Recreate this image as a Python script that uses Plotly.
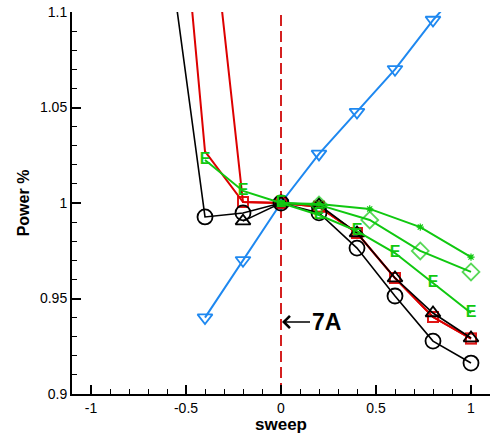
import plotly.graph_objects as go

# ---- data ----
blue_x = [-0.4, -0.2, 0.0, 0.2, 0.4, 0.6, 0.8, 1.0]
blue_y = [0.940, 0.970, 1.000, 1.0257, 1.0476, 1.070, 1.0958, 1.118]

red1_x = [-0.6, -0.4, -0.2, 0.0, 0.2, 0.4, 0.6, 0.8, 1.0]
red1_y = [1.245, 1.027, 1.0005, 1.000, 0.998, 0.9843, 0.9607, 0.9403, 0.929]
red2_x = [-0.4, -0.2, 0.0, 0.2, 0.4, 0.6, 0.8, 1.0]
red2_y = [1.182, 1.0005, 1.000, 0.998, 0.9843, 0.9607, 0.9403, 0.929]

circ_x = [-0.6, -0.4, -0.2, 0.0, 0.2, 0.4, 0.6, 0.8, 1.0]
circ_y = [1.140, 0.9927, 0.9948, 1.000, 0.9948, 0.9764, 0.9513, 0.9277, 0.9162]
tri_x = [-0.2, 0.0, 0.2, 0.4, 0.6, 0.8, 1.0]
tri_y = [0.9905, 1.000, 0.999, 0.9843, 0.9607, 0.9424, 0.9293]

e_x = [-0.4, -0.2, 0.0, 0.2, 0.4, 0.6, 0.8, 1.0]
e_y = [1.0225, 1.0063, 1.000, 0.9937, 0.9853, 0.9738, 0.9581, 0.9424]
dia_x = [0.0, 0.2, 0.467, 0.733, 1.0]
dia_y = [1.000, 0.999, 0.9911, 0.9749, 0.9639]
ast_x = [0.0, 0.2, 0.467, 0.733, 1.0]
ast_y = [1.000, 0.9995, 0.9969, 0.9874, 0.9717]

x_ticks = [-1, -0.5, 0, 0.5, 1]
x_ticklabels = ["-1", "-0.5", "0", "0.5", "1"]
y_ticks = [0.9, 0.95, 1.0, 1.05, 1.1]
y_ticklabels = ["0.9", "0.95", "1", "1.05", "1.1"]

BLUE = "#1e88f0"
RED = "#dd0000"
GREEN = "#10c810"
BLACK = "#000000"

fig = go.Figure()

fig.add_trace(go.Scatter(x=blue_x, y=blue_y, mode="lines+markers",
                         line=dict(color=BLUE, width=2),
                         marker=dict(symbol="triangle-down-open", size=13, color=BLUE,
                                     line=dict(width=1.8, color=BLUE))))
red1_sizes = [0 if xv < -0.3 else 10 for xv in red1_x]
fig.add_trace(go.Scatter(x=red1_x, y=red1_y, mode="lines+markers",
                         line=dict(color=RED, width=2),
                         marker=dict(symbol="square-open", size=red1_sizes, color=RED,
                                     line=dict(width=2, color=RED))))
red2_sizes = [0 if xv < -0.3 else 10 for xv in red2_x]
fig.add_trace(go.Scatter(x=red2_x, y=red2_y, mode="lines+markers",
                         line=dict(color=RED, width=2),
                         marker=dict(symbol="square-open", size=red2_sizes, color=RED,
                                     line=dict(width=2, color=RED))))
fig.add_trace(go.Scatter(x=circ_x, y=circ_y, mode="lines+markers",
                         line=dict(color=BLACK, width=1.6),
                         marker=dict(symbol="circle-open", size=15, color=BLACK,
                                     line=dict(width=1.8, color=BLACK))))
fig.add_trace(go.Scatter(x=tri_x, y=tri_y, mode="lines+markers",
                         line=dict(color=BLACK, width=1.6),
                         marker=dict(symbol="triangle-up-open", size=13, color=BLACK,
                                     line=dict(width=1.8, color=BLACK))))
fig.add_trace(go.Scatter(x=e_x, y=e_y, mode="lines+text", text=["<b>E</b>"] * len(e_x),
                         textposition="middle center",
                         textfont=dict(family="Liberation Sans, Arial", size=16, color=GREEN),
                         line=dict(color=GREEN, width=2)))
dia_sizes = [0 if xv == 0 else 13 for xv in dia_x]
fig.add_trace(go.Scatter(x=dia_x, y=dia_y, mode="lines+markers",
                         line=dict(color=GREEN, width=2),
                         marker=dict(symbol="diamond-open", size=dia_sizes, color=GREEN,
                                     line=dict(width=1.8, color=GREEN))))
fig.add_trace(go.Scatter(x=ast_x, y=ast_y, mode="lines+markers",
                         line=dict(color=GREEN, width=2),
                         marker=dict(symbol="asterisk-open", size=6, color=GREEN,
                                     line=dict(width=1.2, color=GREEN))))

fig.add_shape(type="line", xref="x", yref="paper", x0=0, x1=0, y0=0, y1=1,
              line=dict(color="#d42020", width=2, dash="11px,5px"), layer="below")

fig.add_annotation(x=0, y=0.9377, xref="x", yref="y", text="<b>7A</b>",
                   showarrow=True, ax=45, ay=0, axref="pixel", ayref="pixel",
                   arrowhead=4, arrowsize=1.8, arrowwidth=1.3, arrowcolor="black",
                   standoff=1,
                   font=dict(family="Liberation Sans, Arial", size=23, color="black"))

fig.update_layout(
    width=490, height=434,
    margin=dict(l=72, r=0, t=12, b=40),
    paper_bgcolor="white", plot_bgcolor="white",
    showlegend=False,
    font=dict(family="Liberation Sans, Arial", size=14, color="black"),
)
fig.update_xaxes(range=[-1.1, 1.1], tickvals=x_ticks, ticktext=x_ticklabels,
                 ticks="inside", ticklen=9, tickwidth=1.5, tickcolor="black",
                 minor=dict(dtick=0.1, ticks="inside", ticklen=5, tickwidth=1, tickcolor="black"),
                 showline=True, linecolor="black", linewidth=2, showgrid=False, zeroline=False,
                 title=dict(text="<b>sweep</b>", font=dict(size=17), standoff=4))
fig.update_yaxes(range=[0.9, 1.1], tickvals=y_ticks, ticktext=y_ticklabels,
                 ticks="inside", ticklen=9, tickwidth=1.5, tickcolor="black",
                 minor=dict(dtick=0.01, ticks="inside", ticklen=5, tickwidth=1, tickcolor="black"),
                 showline=True, linecolor="black", linewidth=2, showgrid=False, zeroline=False,
                 title=dict(text="<b>Power %</b>", font=dict(size=16), standoff=6))

fig.write_html("out.html")
